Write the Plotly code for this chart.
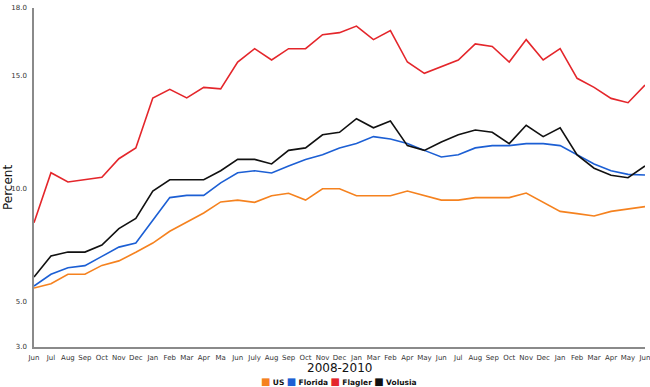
import plotly.graph_objects as go

months = ["Jun", "Jul", "Aug", "Sep", "Oct", "Nov", "Dec", "Jan", "Feb", "Mar", "Apr", "Ma",
          "Jun", "July", "Aug", "Sep", "Oct", "Nov", "Dec", "Jan", "Mar", "Feb", "Apr", "May",
          "Jun", "Jul", "Aug", "Sep", "Oct", "Nov", "Dec", "Jan", "Feb", "Mar", "Apr", "May", "Jun"]

us = [5.61, 5.80, 6.22, 6.22, 6.61, 6.81, 7.19, 7.60, 8.12, 8.52, 8.93, 9.42,
      9.50, 9.40, 9.69, 9.80, 9.50, 10.00, 10.00, 9.69, 9.69, 9.69, 9.90, 9.69,
      9.50, 9.50, 9.61, 9.61, 9.61, 9.81, 9.42, 9.00, 8.90, 8.80, 9.00, 9.11, 9.21]

florida = [5.70, 6.22, 6.51, 6.60, 7.01, 7.42, 7.60, 8.61, 9.61, 9.71, 9.71, 10.26,
           10.71, 10.80, 10.70, 11.01, 11.30, 11.51, 11.81, 12.00, 12.31, 12.20, 12.00, 11.70,
           11.41, 11.51, 11.81, 11.91, 11.91, 12.00, 12.00, 11.91, 11.50, 11.10, 10.80, 10.64, 10.61]

flagler = [8.50, 10.71, 10.30, 10.40, 10.51, 11.33, 11.81, 14.02, 14.40, 14.02, 14.49, 14.42,
           15.61, 16.20, 15.70, 16.20, 16.20, 16.82, 16.91, 17.20, 16.60, 17.00, 15.61, 15.11,
           15.39, 15.70, 16.41, 16.30, 15.61, 16.60, 15.70, 16.20, 14.89, 14.49, 14.00, 13.81, 14.59]

volusia = [6.10, 7.03, 7.20, 7.20, 7.51, 8.24, 8.69, 9.90, 10.40, 10.40, 10.40, 10.80,
           11.30, 11.30, 11.10, 11.70, 11.81, 12.39, 12.50, 13.10, 12.70, 13.00, 11.91, 11.70,
           12.07, 12.39, 12.60, 12.50, 12.00, 12.81, 12.31, 12.70, 11.50, 10.91, 10.60, 10.49, 11.01]

y_ticks = [3.0, 5.0, 10.0, 15.0, 18.0]
y_ticktext = ["3.0", "5.0", "10.0", "15.0", "18.0"]

series_names = ["US", "Florida", "Flagler", "Volusia"]
colors = ["#f5821f", "#1c5fd4", "#e4262b", "#111111"]

xs = list(range(len(months)))

W, H = 650, 387
ML, MR, MT, MB = 34, 5, 8, 40
plot_h = H - MT - MB
plot_w = W - ML - MR


def py(pix):
    return (H - MB - pix) / plot_h


def px(pix):
    return (pix - ML) / plot_w


fig = go.Figure()
for name, vals, col in zip(series_names, [us, florida, flagler, volusia], colors):
    fig.add_trace(go.Scatter(x=xs, y=vals, mode="lines", name=name,
                             line=dict(color=col, width=1.6), showlegend=False))

legend_parts = []
for name, col in zip(series_names, colors):
    legend_parts.append(
        f"<span style='color:{col};font-size:10px'>■</span> <b>{name}</b>")
legend_text = " ".join(legend_parts)

fig.update_layout(
    width=W, height=H,
    margin=dict(l=ML, r=MR, t=MT, b=MB),
    paper_bgcolor="white", plot_bgcolor="white",
    font=dict(family="DejaVu Sans", color="#333333", size=8),
    xaxis=dict(
        range=[0, len(months) - 1], automargin=False,
        tickmode="array", tickvals=xs, ticktext=months, tickangle=0,
        ticklabeloverflow="allow",
        tickfont=dict(size=7, color="#333333"),
        showgrid=False, zeroline=False,
        showline=True, linecolor="#8a8a8a", linewidth=1.5,
        ticks="outside", ticklen=3, tickcolor="rgba(0,0,0,0)",
    ),
    yaxis=dict(
        range=[3, 18], automargin=False,
        tickmode="array", tickvals=y_ticks, ticktext=y_ticktext,
        tickfont=dict(size=7, color="#333333"),
        showgrid=False, zeroline=False,
        showline=True, linecolor="#8a8a8a", linewidth=1.5,
        ticks="outside", ticklen=4, tickcolor="rgba(0,0,0,0)",
    ),
    annotations=[
        dict(text=legend_text, x=px(339), xref="paper", y=py(381), yref="paper",
             showarrow=False, font=dict(size=7.5, color="#111111", family="DejaVu Sans"),
             xanchor="center", yanchor="middle"),
        dict(text="2008-2010", x=px(339), xref="paper", y=py(368), yref="paper",
             showarrow=False, font=dict(size=12, color="#111111", family="DejaVu Sans"),
             xanchor="center", yanchor="middle"),
        dict(text="Percent", x=px(8), xref="paper", y=py(188), yref="paper",
             showarrow=False, textangle=-90,
             font=dict(size=12, color="#111111", family="DejaVu Sans"),
             xanchor="center", yanchor="middle"),
    ],
)

fig.write_html("out.html", config={"displayModeBar": False},
               post_script="document.body.style.margin='0px';")
